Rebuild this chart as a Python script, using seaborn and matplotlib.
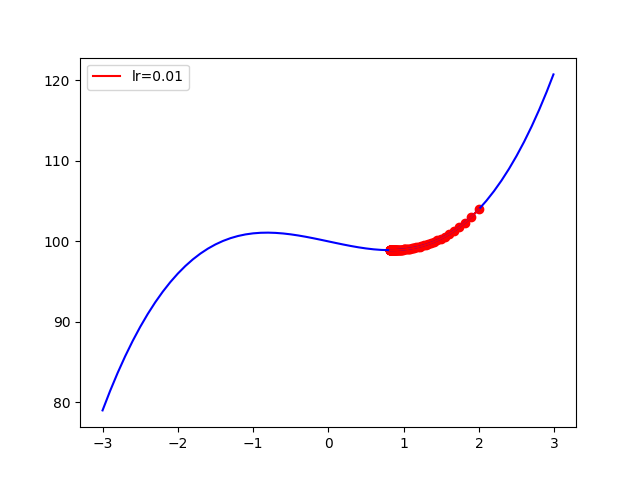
import numpy as np
import pandas as pd
import matplotlib
matplotlib.use("Agg")
import matplotlib.pyplot as plt
import seaborn as sns

# curve values
curve_x = [-3.0, -2.9, -2.8, -2.7, -2.6, -2.5, -2.4, -2.3, -2.2, -2.1,
           -2.0, -1.9, -1.8, -1.7, -1.6, -1.5, -1.4, -1.3, -1.2, -1.1,
           -1.0, -0.9, -0.8, -0.7, -0.6, -0.5, -0.4, -0.3, -0.2, -0.1,
           0.0, 0.1, 0.2, 0.3, 0.4, 0.5, 0.6, 0.7, 0.8, 0.9,
           1.0, 1.1, 1.2, 1.3, 1.4, 1.5, 1.6, 1.7, 1.8, 1.9,
           2.0, 2.1, 2.2, 2.3, 2.4, 2.5, 2.6, 2.7, 2.8, 2.9, 2.99]
curve_y = [79.0, 81.411, 83.648, 85.717, 87.624, 89.375, 90.976, 92.433, 93.752, 94.939,
           96.0, 96.941, 97.768, 98.487, 99.104, 99.625, 100.056, 100.403, 100.672, 100.869,
           101.0, 101.071, 101.088, 101.057, 100.984, 100.875, 100.736, 100.573, 100.392, 100.199,
           100.0, 99.801, 99.608, 99.427, 99.264, 99.125, 99.016, 98.943, 98.912, 98.929,
           99.0, 99.131, 99.328, 99.597, 99.944, 100.375, 100.896, 101.513, 102.232, 103.059,
           104.0, 105.061, 106.248, 107.567, 109.024, 110.625, 112.376, 114.283, 116.352, 118.589, 120.751]

# descent steps (lr=0.01)
step_x = [2.0, 1.9, 1.812, 1.733, 1.663, 1.600, 1.543, 1.492, 1.445, 1.402,
          1.363, 1.328, 1.295, 1.264, 1.237, 1.211, 1.187, 1.164, 1.144, 1.125,
          1.107, 1.090, 1.074, 1.060, 1.046, 1.033, 1.021, 1.010, 0.999, 0.989,
          0.980, 0.971, 0.963, 0.955, 0.948, 0.941, 0.934, 0.928, 0.922, 0.917,
          0.911, 0.906, 0.902, 0.897, 0.893, 0.889, 0.886, 0.882, 0.879, 0.876,
          0.873, 0.870, 0.867, 0.864, 0.862, 0.860, 0.858, 0.856, 0.854, 0.852,
          0.850, 0.848, 0.847, 0.845, 0.844, 0.842, 0.841, 0.840, 0.839, 0.838,
          0.837, 0.835, 0.835, 0.834, 0.833, 0.832, 0.831, 0.831, 0.830, 0.829,
          0.829, 0.828, 0.827, 0.827, 0.826, 0.826, 0.825, 0.825, 0.825, 0.824,
          0.824, 0.823, 0.823, 0.823, 0.822, 0.822, 0.822, 0.822, 0.821, 0.821, 0.821]
step_y = [104.0, 103.059, 102.323, 101.740, 101.274, 100.897, 100.589, 100.337, 100.128, 99.953,
          99.808, 99.685, 99.581, 99.493, 99.418, 99.353, 99.298, 99.250, 99.209, 99.173,
          99.142, 99.115, 99.091, 99.070, 99.052, 99.036, 99.022, 99.010, 98.999, 98.990,
          98.981, 98.974, 98.967, 98.961, 98.956, 98.951, 98.947, 98.943, 98.940, 98.937,
          98.934, 98.932, 98.930, 98.928, 98.926, 98.925, 98.923, 98.922, 98.921, 98.920,
          98.919, 98.918, 98.918, 98.917, 98.916, 98.916, 98.915, 98.915, 98.915, 98.914,
          98.914, 98.914, 98.914, 98.913, 98.913, 98.913, 98.913, 98.913, 98.913, 98.912,
          98.912, 98.912, 98.912, 98.912, 98.912, 98.912, 98.912, 98.912, 98.912, 98.912,
          98.912, 98.912, 98.912, 98.912, 98.911, 98.911, 98.911, 98.911, 98.911, 98.911,
          98.911, 98.911, 98.911, 98.911, 98.911, 98.911, 98.911, 98.911, 98.911, 98.911, 98.911]

curve = pd.DataFrame({'x': curve_x, 'y': curve_y})
steps = pd.DataFrame({'x': step_x, 'y': step_y})

fig, ax = plt.subplots(figsize=(6.4, 4.8), dpi=100)

# blue function curve first, red path drawn over it, dots underneath
sns.lineplot(data=curve, x='x', y='y', color='blue', estimator=None,
             sort=False, ax=ax)
sns.scatterplot(data=steps, x='x', y='y', color='red', edgecolor='red',
                linewidth=1, s=36, ax=ax)
sns.lineplot(data=steps, x='x', y='y', color='red', label='lr=0.01',
             estimator=None, sort=False, ax=ax)

ax.set_xlabel('')
ax.set_ylabel('')
ax.legend(loc='upper left')

plt.savefig('out.png', dpi=100)
